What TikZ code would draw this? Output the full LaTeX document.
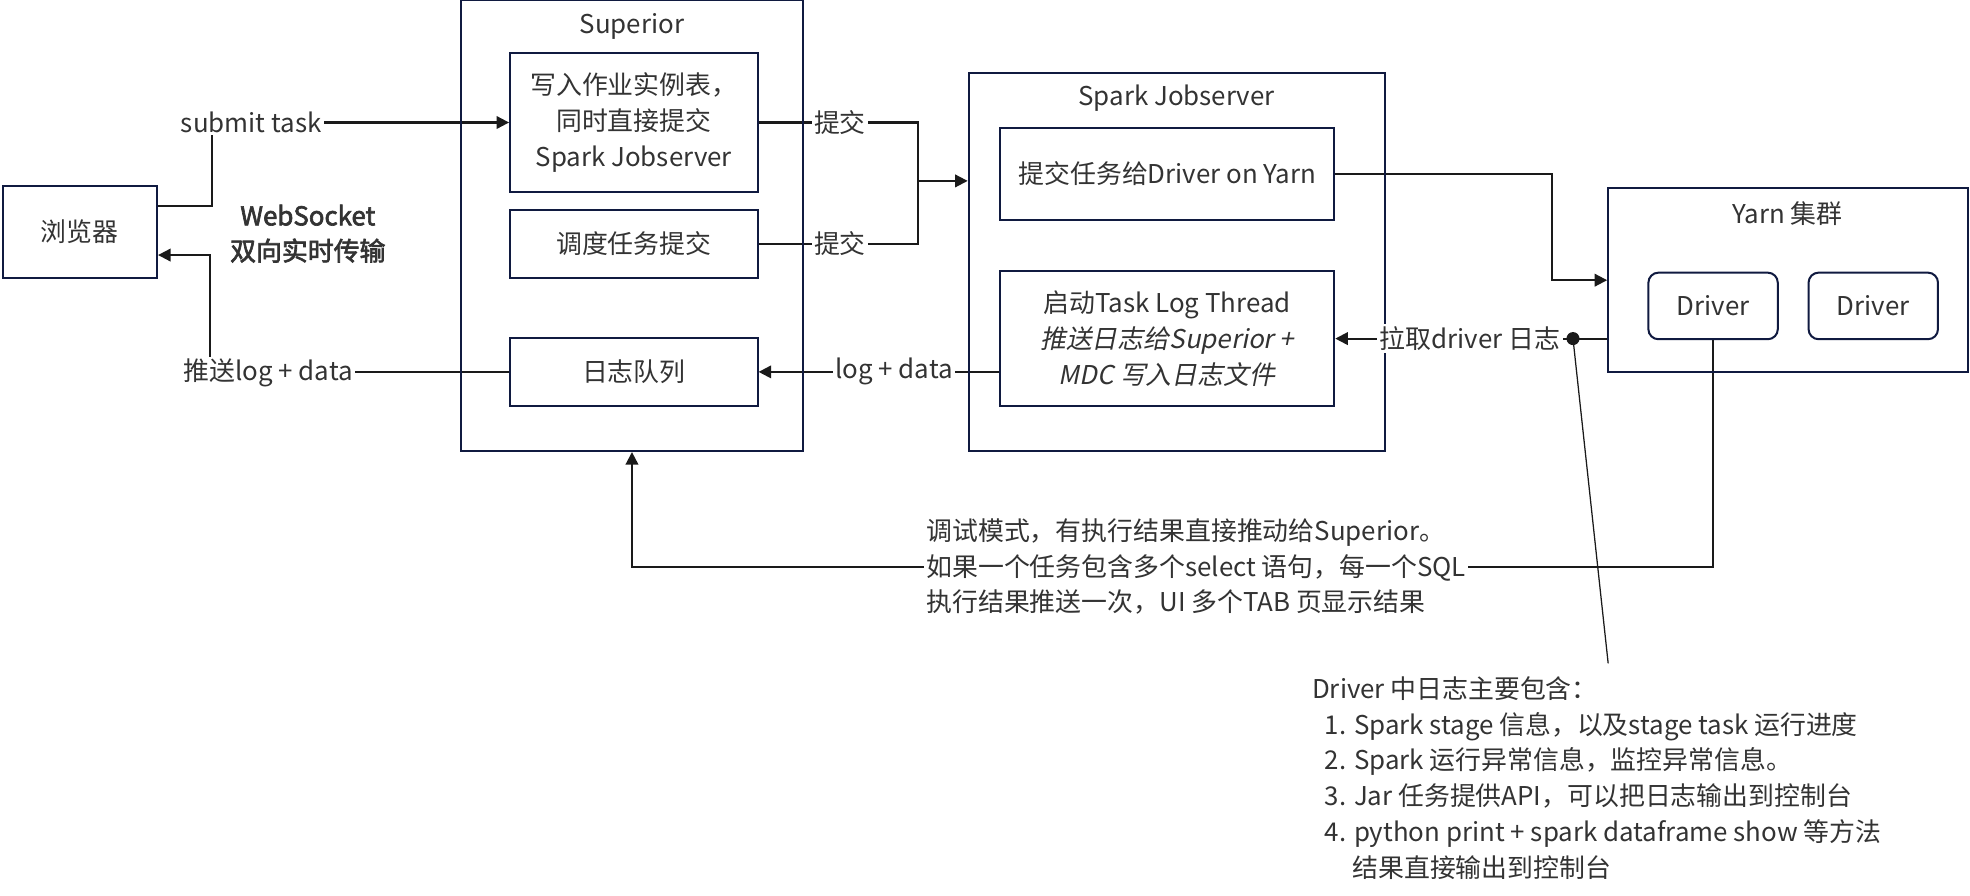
\documentclass[tikz,border=0pt]{standalone}
\usepackage{fontspec}
\setmainfont{Noto Sans CJK SC}[ItalicFont={Noto Sans CJK SC},ItalicFeatures={FakeSlant=0.2},BoldFont={Noto Sans CJK SC},BoldFeatures={FakeBold=2.5}]
\usepackage{xcolor}
\usepackage{tikz}
\usetikzlibrary{arrows.meta}
\usetikzlibrary{backgrounds}
\usetikzlibrary{calc}
\usetikzlibrary{positioning}

\definecolor{boxline}{HTML}{101A40}
\definecolor{inkgray}{HTML}{333333}
\definecolor{wiregray}{HTML}{1A1A1A}

\tikzset{
  every node/.style={font=\fontsize{10.3}{14.25}\selectfont, text=inkgray},
  box/.style={draw=boxline, line width=0.8pt, minimum width=98.5pt, align=center, inner sep=2pt},
  group/.style={draw=boxline, line width=0.8pt, inner sep=0pt},
  driverbox/.style={draw=boxline, line width=0.8pt, rounded corners=4pt, minimum width=51.5pt, minimum height=26.5pt},
  link/.style={draw=wiregray, line width=0.8pt, -{Triangle[length=5pt,width=5pt]}},
  wire/.style={draw=wiregray, line width=0.8pt},
  tag/.style={fill=white, inner sep=1pt},
}

\begin{document}
\begin{tikzpicture}[x=0.5pt,y=-0.5pt]
        \useasboundingbox (0,0) rectangle (1568,713);
        % Browser
        \node[box, minimum width=61.5pt, minimum height=36.5pt] (browser) at (63.5,184.5) {浏览器};
        \node[align=center, font=\fontsize{10.3}{14}\selectfont\bfseries] (ws) at (245,186) {WebSocket\\双向实时传输};
        % Superior
        \node[group, minimum width=136pt, minimum height=179.5pt] (sup) at (503,179.5) {};
        \node (suptitle) at (503,21) {Superior};
        \node[box, minimum height=55.5pt] (write) at (504.5,97.5) {写入作业实例表，\\同时直接提交\\Spark Jobserver};
        \node[box, minimum height=27pt] (sched) at (504.5,194) {调度任务提交};
        \node[box, minimum height=27pt] (queue) at (504.5,296) {日志队列};
        % Spark Jobserver
        \node[group, minimum width=165.5pt, minimum height=150.5pt] (spark) at (936.5,208.5) {};
        \node (sparktitle) at (936.5,78) {Spark Jobserver};
        \node[box, minimum width=133pt, minimum height=36.5pt] (submit) at (929,138.5) {提交任务给Driver on Yarn};
        \node[box, minimum width=133pt, minimum height=53.5pt] (logthread) at (929,269.5) {启动Task Log Thread\\\textit{推送日志给Superior +}\\\textit{MDC 写入日志文件}};
        % Yarn
        \node[group, minimum width=143pt, minimum height=73pt] (yarn) at (1423,223) {};
        \node (yarntitle) at (1423,170) {Yarn 集群};
        \node[driverbox] (drvA) at (1363.5,243.5) {Driver};
        \node[driverbox] (drvB) at (1491,243.5) {Driver};

        % connector labels
        \node[tag] (subtask) at (200,97) {submit task};
        \node[tag] (pushlog) at (213.5,297) {推送log + data};
        \node[tag] (handA) at (668.5,97.5) {提交};
        \node[tag] (handB) at (668.5,194) {提交};
        \node[tag] (logdata) at (711.5,296) {log + data};
        \node[tag] (pull) at (1170,269.5) {拉取driver 日志};
        \node[tag, anchor=west, align=left] (debug) at (735,451) {调试模式，有执行结果直接推动给Superior。\\如果一个任务包含多个select 语句，每一个SQL\\执行结果推送一次，UI 多个TAB 页显示结果};
        \node[anchor=north west, align=left, inner sep=0pt] (notes) at (1044,538) {Driver 中日志主要包含：\\
            \hspace*{5pt}1. Spark stage 信息，以及stage task 运行进度\\
            \hspace*{5pt}2. Spark 运行异常信息，监控异常信息。\\
            \hspace*{5pt}3. Jar 任务提供API，可以把日志输出到控制台\\
            \hspace*{5pt}4. python print + spark dataframe show 等方法\\
            \hspace*{16pt}结果直接输出到控制台};

        \coordinate (jin) at ([yshift=32.25pt]spark.west);
        \coordinate (merge) at (731,144);
        \coordinate (tap) at (1252,269.5);
        \coordinate (tip) at (1280,528);

        \begin{scope}[on background layer]
            \draw[link] ([yshift=10.25pt]browser.east) -- ++(43,0) |- (write.west);
            \draw[link] (queue.west) -| (167,203) -- ([yshift=-9.25pt]browser.east);
            \draw[link] (write.east) -| (merge) -- (jin);
            \draw[wire] (sched.east) -| (merge);
            \draw[link] (submit.east) -| (1235,223) -- (yarn.west);
            \draw[link] (yarn.west |- logthread.east) -- (logthread.east);
            \draw[link] (logthread.west |- queue.east) -- (queue.east);
            \draw[link] (drvA.south) |- (sup.south |- 0,451) -- (sup.south);
        \end{scope}

        % note pointer
        \draw[wiregray, line width=0.5pt] (tap) -- (tip);
        \fill[wiregray] (tap) circle (2.6pt);
\end{tikzpicture}
\end{document}
